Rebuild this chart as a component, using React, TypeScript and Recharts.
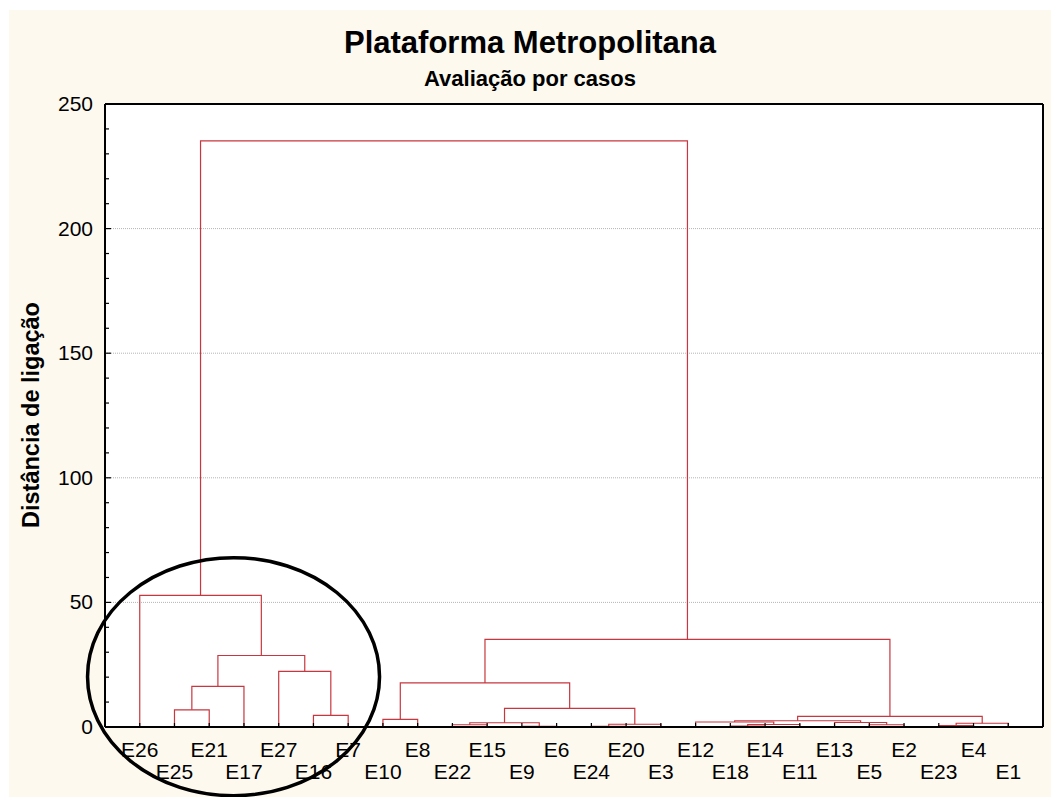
import React from 'react';
import { LineChart, Line, XAxis, YAxis, CartesianGrid, ReferenceDot } from 'recharts';

// leaf order along the x axis
const leaves = [
  'E26', 'E25', 'E21', 'E17', 'E27', 'E16', 'E7', 'E10', 'E8', 'E22', 'E15', 'E9', 'E6',
  'E24', 'E20', 'E3', 'E12', 'E18', 'E14', 'E11', 'E13', 'E5', 'E2', 'E23', 'E4', 'E1',
];

// [left child, right child, linkage distance]; 0-25 = leaves, 26+ = earlier merges
const merges: [number, number, number][] = [
  [11, 12, 0.3],
  [13, 14, 0.3],
  [17, 18, 0.4],
  [23, 24, 0.6],
  [9, 10, 0.9],
  [21, 22, 0.9],
  [28, 19, 1.0],
  [27, 15, 1.1],
  [29, 25, 1.5],
  [30, 26, 1.7],
  [20, 31, 1.8],
  [16, 32, 2.0],
  [37, 36, 2.5],
  [7, 8, 3.1],
  [38, 34, 4.3],
  [5, 6, 4.7],
  [1, 2, 6.9],
  [35, 33, 7.5],
  [42, 3, 16.3],
  [39, 43, 17.7],
  [4, 41, 22.3],
  [44, 46, 28.7],
  [45, 40, 35.2],
  [0, 47, 52.8],
  [49, 48, 235.2],
];

const yTicks = [0, 10, 20, 30, 40, 50, 60, 70, 80, 90, 100, 110, 120, 130, 140, 150, 160, 170, 180, 190, 200, 210, 220, 230, 240, 250];
const gridValues = [50, 100, 150, 200];

const title = 'Plataforma Metropolitana';
const subtitle = 'Avaliação por casos';
const yLabel = 'Distância de ligação';

const FONT = '"Liberation Sans", Arial, sans-serif';
const RED = '#c8373f';

// build the U-shaped links of the tree
const leafPos = leaves.map((_, i) => i + 1);
const pos: number[] = [...leafPos];
const hgt: number[] = leaves.map(() => 0);
const links = merges.map(([a, b, h]) => {
  const seg = [
    { x: pos[a], y: hgt[a] },
    { x: pos[a], y: h },
    { x: pos[b], y: h },
    { x: pos[b], y: hgt[b] },
  ];
  pos.push((pos[a] + pos[b]) / 2);
  hgt.push(h);
  return seg;
});

const LeafTick = (props: any) => {
  const { x, y, payload } = props;
  const i = payload.value - 1;
  return (
    <g>
      <line x1={x} x2={x} y1={y} y2={y - 4} stroke="#000" strokeWidth={1.2} />
      <text x={x} y={y + (i % 2 ? 52 : 30)} textAnchor="middle" fontSize={21} fontFamily={FONT} fill="#000">
        {leaves[i]}
      </text>
    </g>
  );
};

const TopTick = (props: any) => {
  const { x, y } = props;
  return <line x1={x} x2={x} y1={y} y2={y + 5} stroke="#000" strokeWidth={1.2} />;
};

const LeftTick = (props: any) => {
  const { x, y, payload } = props;
  const major = payload.value % 50 === 0;
  return (
    <g>
      <line x1={x} x2={x + (major ? 6 : 4)} y1={y} y2={y} stroke="#000" strokeWidth={1.2} />
      {major && (
        <text x={x - 12} y={y + 7} textAnchor="end" fontSize={21} fontFamily={FONT} fill="#000">
          {payload.value}
        </text>
      )}
    </g>
  );
};

const RightTick = (props: any) => {
  const { x, y, payload } = props;
  const major = payload.value % 50 === 0;
  return <line x1={x} x2={x - (major ? 6 : 4)} y1={y} y2={y} stroke="#000" strokeWidth={1.2} />;
};

const Ellipse = (props: any) => (
  <ellipse cx={props.cx} cy={props.cy} rx={146} ry={119} fill="none" stroke="#000" strokeWidth={3.5} />
);

export default function App() {
  const axisLine = { stroke: '#000', strokeWidth: 2 };
  return (
    <div style={{ position: 'relative', width: 1051, height: 797, background: '#fff', overflow: 'hidden' }}>
      <style>{'body{margin:0;overflow:hidden;}'}</style>
      <div style={{ position: 'absolute', left: 9, top: 10, width: 1042, height: 787, background: '#fdf9ef' }}>
        <LineChart width={1042} height={787} margin={{ top: 93, right: 0, bottom: 0, left: 0 }}>
          <CartesianGrid
            fill="#fff"
            vertical={false}
            horizontalValues={gridValues}
            stroke="#b4b4b4"
            strokeDasharray="1 1"
          />
          <XAxis
            type="number"
            dataKey="x"
            domain={[0, 27]}
            ticks={leafPos}
            interval={0}
            tickSize={0}
            tickMargin={0}
            tickLine={false}
            tick={<LeafTick />}
            height={70}
            axisLine={axisLine}
          />
          <XAxis
            xAxisId="top"
            orientation="top"
            type="number"
            dataKey="x"
            domain={[0, 27]}
            ticks={leafPos}
            interval={0}
            tickSize={0}
            tickMargin={0}
            tickLine={false}
            tick={<TopTick />}
            height={1}
            axisLine={axisLine}
          />
          <YAxis
            type="number"
            domain={[0, 250]}
            ticks={yTicks}
            interval={0}
            tickSize={0}
            tickMargin={0}
            tickLine={false}
            tick={<LeftTick />}
            width={96}
            axisLine={axisLine}
          />
          <YAxis
            yAxisId="right"
            orientation="right"
            type="number"
            domain={[0, 250]}
            ticks={yTicks}
            interval={0}
            tickSize={0}
            tickMargin={0}
            tickLine={false}
            tick={<RightTick />}
            width={8}
            axisLine={axisLine}
          />
          {links.map((seg, i) => (
            <Line
              key={i}
              data={seg}
              dataKey="y"
              type="linear"
              stroke={RED}
              strokeWidth={1.2}
              dot={false}
              activeDot={false}
              isAnimationActive={false}
            />
          ))}
          <ReferenceDot x={3.7} y={20.2} r={1} shape={<Ellipse />} />
        </LineChart>
        <svg
          width={1042}
          height={787}
          style={{ position: 'absolute', left: 0, top: 0, pointerEvents: 'none' }}
        >
          <text x={521} y={43} textAnchor="middle" fontSize={31} fontWeight="bold" fontFamily={FONT} fill="#000">
            {title}
          </text>
          <text x={521} y={76} textAnchor="middle" fontSize={22} fontWeight="bold" fontFamily={FONT} fill="#000">
            {subtitle}
          </text>
          <text
            x={0}
            y={0}
            transform="translate(22 405) rotate(-90)"
            textAnchor="middle"
            dominantBaseline="central"
            fontSize={23.5}
            fontWeight="bold"
            fontFamily={FONT}
            fill="#000"
          >
            {yLabel}
          </text>
        </svg>
      </div>
    </div>
  );
}
